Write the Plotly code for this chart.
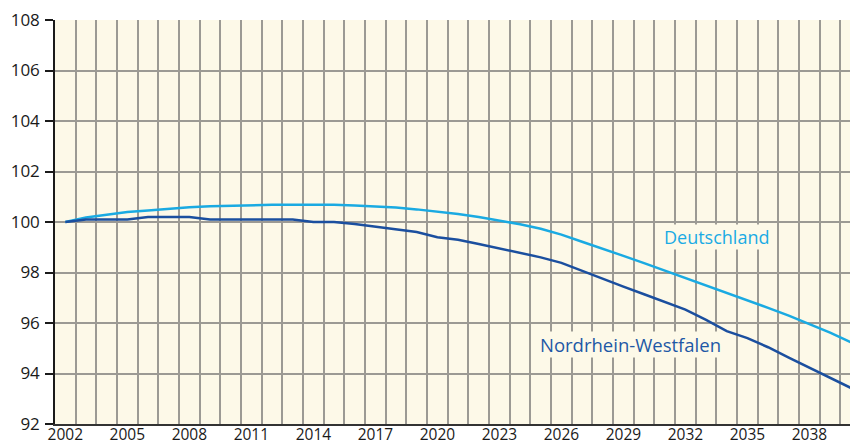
import plotly.graph_objects as go

years = list(range(2002, 2041))

deutschland = [100.00, 100.18, 100.29, 100.40, 100.46, 100.53, 100.58, 100.62, 100.65, 100.66,
               100.68, 100.68, 100.68, 100.68, 100.65, 100.62, 100.57, 100.50, 100.42, 100.32,
               100.20, 100.06, 99.91, 99.73, 99.50, 99.22, 98.95, 98.66, 98.37, 98.08,
               97.79, 97.50, 97.20, 96.90, 96.60, 96.29, 95.97, 95.62, 95.24]

nrw = [100.0, 100.1, 100.1, 100.1, 100.2, 100.2, 100.2, 100.1, 100.1, 100.1,
       100.1, 100.1, 100.0, 100.0, 99.92, 99.82, 99.72, 99.60, 99.40, 99.30,
       99.13, 98.96, 98.80, 98.60, 98.38, 98.06, 97.74, 97.44, 97.14, 96.83,
       96.53, 96.12, 95.68, 95.40, 95.04, 94.63, 94.23, 93.83, 93.43]

x_tick_labels = [str(y) for y in range(2002, 2041, 3)]
y_ticks = list(range(92, 109, 2))

c_de = "#1AAAE2"
c_nrw = "#1B4F9F"
bg = "#FDF9E8"
grid = "#9C9A94"
font_family = "Open Sans, Noto Sans, sans-serif"

fig = go.Figure()
fig.add_trace(go.Scatter(x=years, y=deutschland, mode="lines",
                         line=dict(color=c_de, width=2.5), name="Deutschland"))
fig.add_trace(go.Scatter(x=years, y=nrw, mode="lines",
                         line=dict(color=c_nrw, width=2.5), name="Nordrhein-Westfalen"))

fig.add_annotation(x=2033.48, y=99.41, text="Deutschland", showarrow=False,
                   font=dict(family=font_family, size=18, color="#1AABE4"),
                   bgcolor=bg, borderpad=0)
fig.add_annotation(x=2029.32, y=95.13, text="Nordrhein-Westfalen", showarrow=False,
                   font=dict(family=font_family, size=18.5, color="#1E58A6"),
                   bgcolor=bg, borderpad=0)

# page body has an 8px margin, so the figure is sized to end at the window edge
fig.update_layout(
    width=850, height=438,
    margin=dict(l=47, r=0, t=12, b=22, autoexpand=False),
    paper_bgcolor="white",
    plot_bgcolor=bg,
    showlegend=False,
    font=dict(family=font_family, color="#1a1a1a"),
    xaxis=dict(
        type="linear",
        range=[2001.5, 2040.35],
        tickmode="array",
        tickvals=[int(t) for t in x_tick_labels],
        ticktext=x_tick_labels,
        ticks="",
        showgrid=False,
        zeroline=False,
        automargin=False,
        ticklabeloverflow="allow",
        ticklabelstandoff=-4,
        showline=True, linecolor="#333333", linewidth=1.5,
        tickfont=dict(size=15.5, color="#1a1a1a"),
        minor=dict(tick0=2001.5, dtick=1, showgrid=True,
                   gridcolor=grid, gridwidth=1.5, ticks=""),
    ),
    yaxis=dict(
        range=[92, 108],
        tickmode="array",
        tickvals=y_ticks,
        ticks="outside", ticklen=8, tickwidth=1.5, tickcolor="#1a1a1a",
        showgrid=True, gridcolor=grid, gridwidth=1.5,
        zeroline=False,
        automargin=False,
        ticklabeloverflow="allow",
        ticklabelstandoff=2,
        showline=True, linecolor="#1a1a1a", linewidth=1.5,
        tickfont=dict(size=17, color="#1a1a1a"),
    ),
)

fig.write_html("out.html")
